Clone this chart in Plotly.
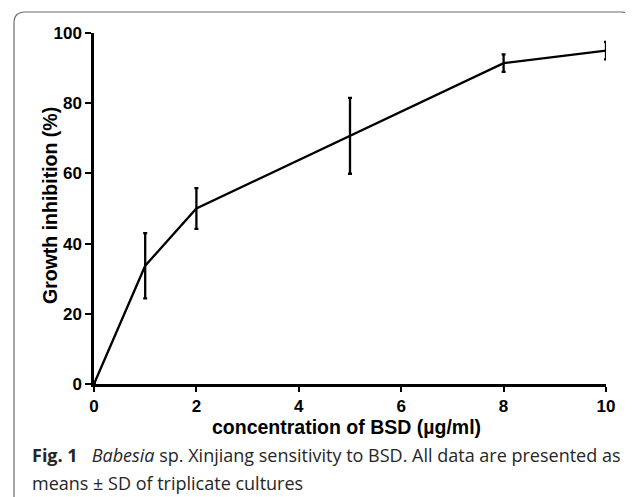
import plotly.graph_objects as go

conc = [0, 1, 2, 5, 8, 10]
inhibition = [0, 33.7, 50.0, 70.7, 91.4, 95.0]
sd = [0, 9.3, 5.8, 10.8, 2.5, 2.5]
x_ticks = [0, 2, 4, 6, 8, 10]
y_ticks = [0, 20, 40, 60, 80, 100]

# page body has an 8px margin; work in window pixels and shift
OFF = 8
WIN_W, WIN_H = 633, 497
W, H = WIN_W - OFF, WIN_H - OFF
PL, PR, PT, PB = 94, 606, 33, 384  # plot area in window pixels
L, T = PL - OFF, PT - OFF
R, B = W - (PR - OFF), H - (PB - OFF)
pw, ph = PR - PL, PB - PT

def px(x):
    return (x - PL) / pw

def py(y):
    return (PB - y) / ph

fig = go.Figure()
fig.add_trace(go.Scatter(
    x=conc, y=inhibition, mode="lines",
    line=dict(color="black", width=2.3),
    error_y=dict(type="data", array=sd, visible=True, color="black", thickness=2.3, width=2),
    cliponaxis=False, showlegend=False,
))

axis_font = dict(family="Liberation Sans, Arial", size=17, color="black", weight="bold")
fig.update_layout(
    width=W, height=H,
    margin=dict(l=L, r=R, t=T, b=B, pad=0),
    paper_bgcolor="white", plot_bgcolor="white",
    xaxis=dict(range=[0, 10], tickvals=x_ticks, showgrid=False, zeroline=False,
               showline=True, linecolor="black", linewidth=2.5, ticks="outside",
               ticklen=5, tickwidth=2, tickcolor="black", tickfont=axis_font),
    yaxis=dict(range=[0, 100], tickvals=y_ticks, showgrid=False, zeroline=False,
               showline=True, linecolor="black", linewidth=2.5, ticks="outside",
               ticklen=6, tickwidth=2, tickcolor="black", tickfont=axis_font),
)

title_font = dict(family="Liberation Sans, Arial", size=19.5, color="black", weight="bold")
fig.add_annotation(text="concentration of BSD (µg/ml)", xref="paper", yref="paper",
                   x=px(346), y=py(427), xanchor="center", yanchor="middle",
                   showarrow=False, font=title_font)
fig.add_annotation(text="Growth inhibition (%)", xref="paper", yref="paper",
                   x=px(50), y=py(206), xanchor="center", yanchor="middle", textangle=-90,
                   showarrow=False, font=title_font)

# rounded frame
x0, x1, y0, y1, r = 14, 632, 12, 530, 11
path = (f"M {px(x0)} {py(y1)} L {px(x0)} {py(y0 + r)} Q {px(x0)} {py(y0)} {px(x0 + r)} {py(y0)} "
        f"L {px(x1 - r)} {py(y0)} Q {px(x1)} {py(y0)} {px(x1)} {py(y0 + r)} L {px(x1)} {py(y1)}")
fig.add_shape(type="path", path=path, xref="paper", yref="paper",
              line=dict(color="#6b6b6b", width=1.2))

cap_font = dict(family="Open Sans, Noto Sans", size=18, color="#262626")
fig.add_annotation(
    text="<b>Fig. 1</b>   <i>Babesia</i> sp. Xinjiang sensitivity to BSD. All data are presented as",
    xref="paper", yref="paper", x=px(30), y=py(455), xanchor="left", yanchor="middle",
    showarrow=False, font=cap_font)
fig.add_annotation(
    text="means ± SD of triplicate cultures",
    xref="paper", yref="paper", x=px(30), y=py(483), xanchor="left", yanchor="middle",
    showarrow=False, font=cap_font)

fig.write_html("out.html")
